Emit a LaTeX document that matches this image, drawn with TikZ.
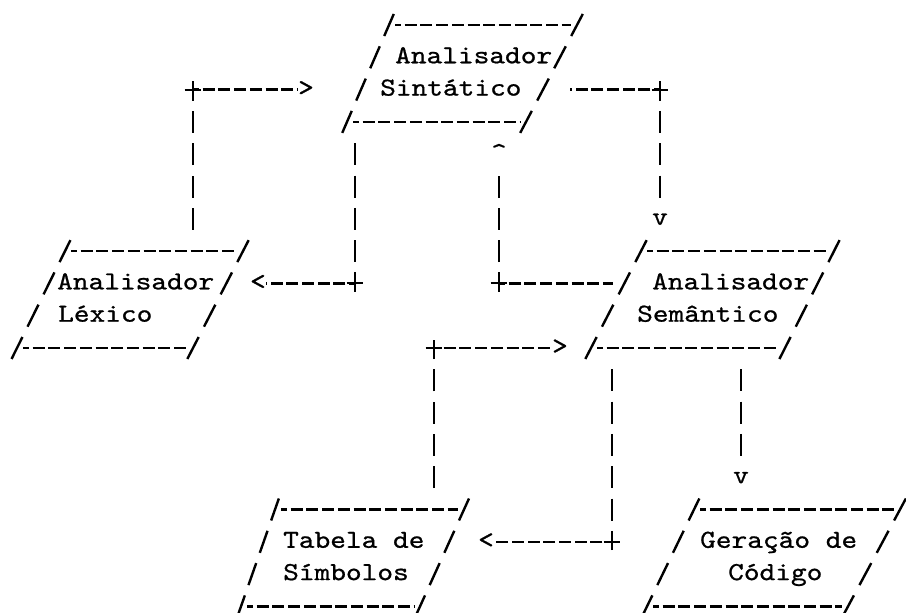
\documentclass[tikz,border=0pt]{standalone}
\usepackage{fontspec}
\usetikzlibrary{calc,shapes.misc}

% typewriter face: Latin Modern Mono, widened to the typewriter pitch and a touch heavier
\newfontfamily\typeface{lmmono10-regular.otf}[FakeStretch=1.15, FakeBold=0.8]

% parallelogram typed as /----/ : name, top row, top-left x, top-right x, bottom-left x, bottom-right x
\newcommand\pgram[6]{%
  \coordinate (#1-tl) at (#3,{R(#2)});
  \coordinate (#1-tr) at (#4,{R(#2)});
  \coordinate (#1-bl) at (#5,{R(#2+3)});
  \coordinate (#1-br) at (#6,{R(#2+3)});
  \draw[hdash, shorten <=6pt, shorten >=6pt] (#1-tl) -- (#1-tr);
  \draw[hdash, shorten <=6pt, shorten >=6pt] (#1-bl) -- (#1-br);
  \foreach \k in {0,...,3}{
    \draw[slash] ($(#1-tl)!\k/3-0.1135!(#1-bl)$) -- ($(#1-tl)!\k/3+0.1135!(#1-bl)$);
    \draw[slash] ($(#1-tr)!\k/3-0.1135!(#1-br)$) -- ($(#1-tr)!\k/3+0.1135!(#1-br)$);
  }%
}

\begin{document}
\begin{tikzpicture}[x=1pt,y=-1pt,
  declare function={R(\k)=25+32.3*\k;},
  every node/.style={inner sep=0pt},
  ink/.style={line width=2.3pt, black},
  slash/.style={line width=2.4pt, black},
  hdash/.style={ink, dash pattern=on 12pt off 3.7pt, dash phase=6pt},
  vdash/.style={ink, dash pattern=on 22pt off 10.3pt},
  typed/.style={font=\typeface\fontsize{26}{30}\selectfont},
  txt/.style={typed, anchor=base west},
  htip/.style={typed, anchor=base},
  vtip/.style={typed, anchor=base, inner ysep=6pt},
  plus/.style={cross out, draw, line width=1.9pt, rotate=45, minimum size=10pt},
]
\useasboundingbox (0,0) rectangle (906,613);

% boxes
\pgram{S}{0}{389}{577}{347}{526}
\pgram{L}{7}{65}{243}{17}{193}
\pgram{M}{7}{641}{834}{591}{785}
\pgram{T}{15}{275}{464}{241}{420}
\pgram{G}{15}{694}{900}{647}{848}

% box texts
\node[txt] (S-a) at (395,{R(1)+6}) {Analisador};
\node[txt] (S-b) at (380,{R(2)+6}) {Sintático};
\node[txt] (L-a) at (57,{R(8)+6})  {Analisador};
\node[txt] (L-b) at (58,{R(9)+6})  {Léxico};
\node[txt] (M-a) at (652,{R(8)+6}) {Analisador};
\node[txt] (M-b) at (637,{R(9)+6}) {Semântico};
\node[txt] (T-a) at (283,{R(16)+6}) {Tabela de};
\node[txt] (T-b) at (283,{R(17)+6}) {Símbolos};
\node[txt] (G-a) at (700,{R(16)+6}) {Geração de};
\node[txt] (G-b) at (728,{R(17)+6}) {Código};

% Lexico -> Sintatico
\coordinate (c1) at (193,{R(6)+11});
\node[plus] (p1) at (193,{R(2)}) {};
\node[htip] (a1) at (306,{R(2)+6}) {>};
\draw[vdash] (c1) -- (p1.center);
\draw[hdash] (p1.center) -- (p1.center -| a1.west);

% Sintatico -> Lexico
\coordinate (c2) at (355,{R(4)-11});
\node[plus] (p2) at (355,{R(8)}) {};
\node[htip] (a2) at (258,{R(8)+6}) {<};
\draw[vdash] (c2) -- (p2.center);
\draw[hdash] (p2.center) -- (p2.center -| a2.east);

% Semantico -> Sintatico
\coordinate (c3) at (613,{R(8)});
\node[plus] (p3) at (499,{R(8)}) {};
\node[vtip] (a3) at (499,{R(4)+6}) {\textasciicircum};
\draw[hdash] (p3.center) -- (c3);
\draw[vdash, dash phase=11pt] (p3.center) -- (p3.center |- a3.south);

% Sintatico -> Semantico
\coordinate (c4) at (570,{R(2)});
\node[plus] (p4) at (660,{R(2)}) {};
\node[vtip] (a4) at (660,{R(6)+6}) {v};
\draw[hdash] (p4.center) -- (c4);
\draw[vdash, dash phase=11pt] (p4.center) -- (p4.center |- a4.north);

% Tabela de Simbolos -> Semantico
\coordinate (c5) at (434,{R(14)+11});
\node[plus] (p5) at (434,{R(10)}) {};
\node[htip] (a5) at (560,{R(10)+6}) {>};
\draw[vdash] (c5) -- (p5.center);
\draw[hdash] (p5.center) -- (p5.center -| a5.west);

% Semantico -> Tabela de Simbolos
\coordinate (c6) at (612,{R(11)-11});
\node[plus] (p6) at (612,{R(16)}) {};
\node[htip] (a6) at (486,{R(16)+6}) {<};
\draw[vdash] (c6) -- (p6.center);
\draw[hdash] (p6.center) -- (p6.center -| a6.east);

% Semantico -> Geracao de Codigo
\coordinate (c7) at (741,{R(11)-11});
\node[vtip] (a7) at (741,{R(14)+6}) {v};
\draw[vdash] (c7) -- (c7 |- a7.north);
\end{tikzpicture}
\end{document}
